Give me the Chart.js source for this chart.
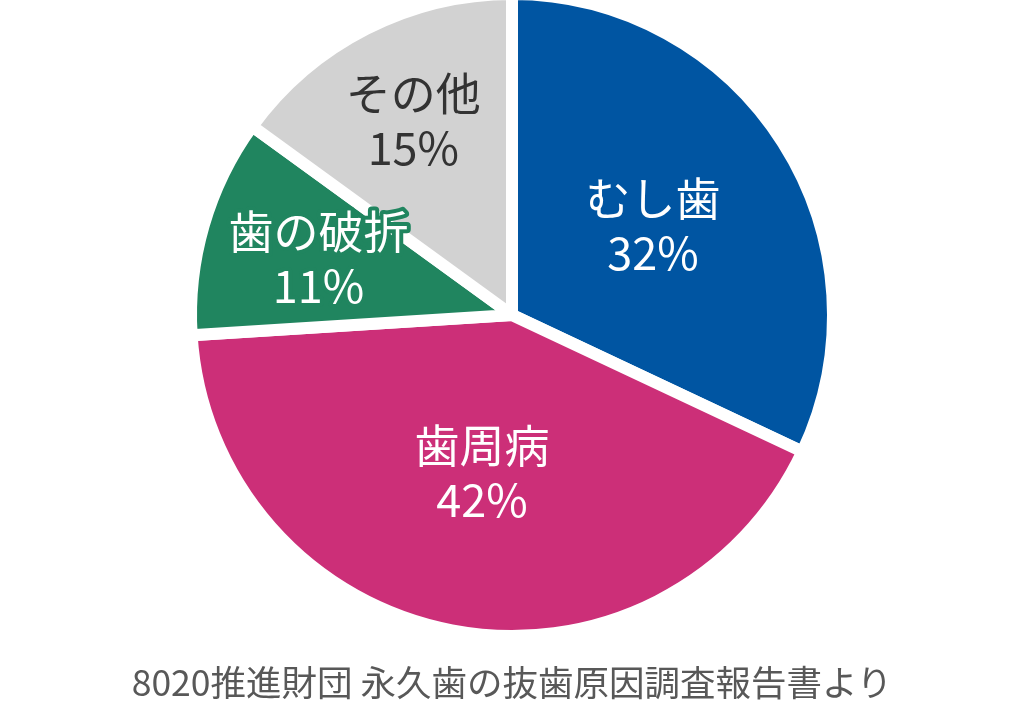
<!DOCTYPE html>
<html><head><meta charset="utf-8">
<script src="https://cdn.jsdelivr.net/npm/chart.js@4"></script>
<style>
html,body{margin:0;padding:0;background:#fff;overflow:hidden;}
#wrap{position:relative;width:1024px;height:702px;overflow:hidden;}
#c{position:absolute;left:0;top:-12px;}
#caption{position:absolute;left:0;width:1024px;top:658px;text-align:center;font-family:"Noto Sans CJK JP";font-size:35.5px;color:#585858;line-height:46px;}
</style></head>
<body>
<div id="wrap"><canvas id="c" width="1024" height="726"></canvas>
<div id="caption">8020推進財団 永久歯の抜歯原因調査報告書より</div></div>
<script>
const categories = ["むし歯", "歯周病", "歯の破折", "その他"];
const values = [32, 42, 11, 15];
const colors = ["#0055A2", "#CC2F78", "#20855F", "#D2D2D2"];
const textColors = ["#ffffff", "#ffffff", "#ffffff", "#333333"];
const strokeColors = [null, null, "#20855F", null];
const labelRadius = [0.53, 0.51, 0.64, 0.69];

const labelPlugin = {
  id: 'labels',
  afterDatasetsDraw(chart) {
    const ctx = chart.ctx;
    const meta = chart.getDatasetMeta(0);
    meta.data.forEach((arc, i) => {
      const p = arc.getProps(['x','y','startAngle','endAngle','outerRadius'], true);
      const mid = (p.startAngle + p.endAngle) / 2;
      const r = 315 * labelRadius[i];
      const cx = p.x + Math.cos(mid) * r;
      const cy = p.y + Math.sin(mid) * r;
      ctx.save();
      ctx.font = '45px "Noto Sans CJK JP"';
      ctx.textAlign = 'center';
      ctx.textBaseline = 'middle';
      const lines = [categories[i], values[i] + '%'];
      lines.forEach((t, k) => {
        const y = cy + (k - 0.5) * 54;
        if (strokeColors[i]) {
          ctx.lineWidth = 8; ctx.lineJoin = 'round';
          ctx.strokeStyle = strokeColors[i];
          ctx.strokeText(t, cx, y);
        }
        ctx.fillStyle = textColors[i];
        ctx.fillText(t, cx, y);
      });
      ctx.restore();
    });
  }
};

new Chart(document.getElementById('c'), {
  type: 'pie',
  data: { labels: categories, datasets: [{ data: values, backgroundColor: colors, borderColor: '#ffffff', borderWidth: 12 }] },
  options: {
    responsive: false, animation: false,
    layout: { padding: { top: 0, bottom: 72, left: 0, right: 0 } },
    plugins: { legend: { display: false }, tooltip: { enabled: false } }
  },
  plugins: [labelPlugin]
});
</script>
</body></html>
